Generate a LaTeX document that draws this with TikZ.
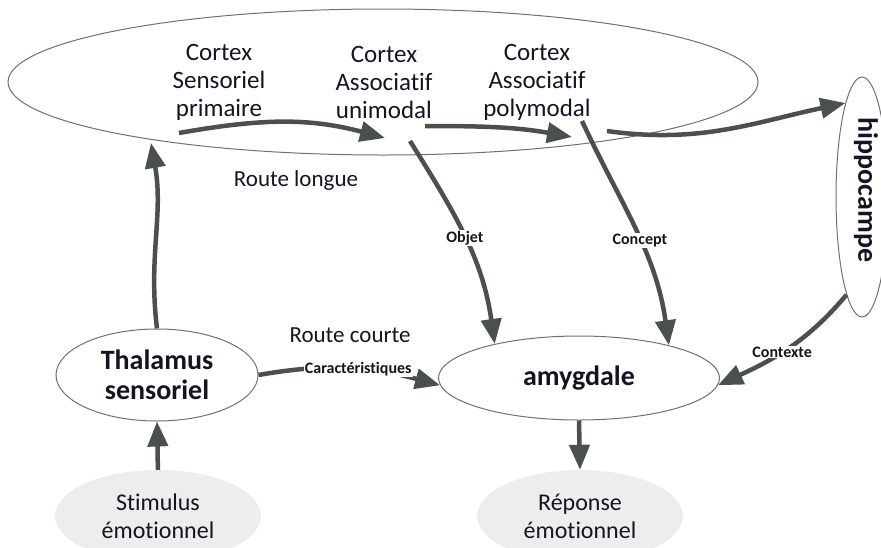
\documentclass[tikz,border=0pt]{standalone}
\usepackage{fontspec}
\setmainfont{Carlito}[Ligatures=NoCommon]
\usepackage{tikz}
\usetikzlibrary{arrows.meta,calc,shapes}

\definecolor{fleche}{RGB}{74,80,75}
\definecolor{bord}{RGB}{112,112,112}
\definecolor{fond}{RGB}{237,237,237}
\definecolor{encre}{RGB}{20,20,35}

\begin{document}
\begin{tikzpicture}[x=1pt, y=-1pt, text=encre,
  zone/.style={ellipse, draw=bord, line width=1pt, inner sep=0pt, align=center},
  gris/.style={ellipse, fill=fond, inner sep=0pt, align=center, font=\fontsize{24}{28}\selectfont},
  txt/.style={align=center, font=\fontsize{25}{28}\selectfont},
  gras/.style={font=\fontsize{28}{30}\selectfont\bfseries},
  lbl/.style={fill=white, inner sep=1pt, text=encre, font=\fontsize{16}{18}\selectfont\bfseries},
  fl/.style={color=fleche, line width=4.5pt, -{Triangle[length=25pt,width=20pt]}}]
  \useasboundingbox (0,0) rectangle (881,547);
  % les zones
  \node[zone, minimum width=750pt, minimum height=146pt] (cortex) at (383,82) {};
  \node[zone, minimum width=52pt, minimum height=240pt] (hippo) at (862,197) {};
  \node[gras, rotate=-90] (hippotxt) at (866,190) {hippocampe};
  \node[zone, gras, minimum width=202pt, minimum height=92pt] (thal) at (157,375) {Thalamus\\sensoriel};
  \node[zone, gras, minimum width=281pt, minimum height=84pt] (amyg) at (579,378) {amygdale};
  \node[gris, minimum width=206pt, minimum height=92pt] (stim) at (158,516) {Stimulus\\émotionnel};
  \node[gris, minimum width=206pt, minimum height=92pt] (rep) at (580,516) {Réponse\\émotionnel};
  % les cortex
  \node[txt] (prim) at (219,82) {Cortex\\Sensoriel\\primaire};
  \node[txt] (uni) at (384,82) {Cortex\\Associatif\\unimodal};
  \node[txt] (poly) at (537,82) {Cortex\\Associatif\\polymodal};
  \node[txt, font=\fontsize{23}{26}\selectfont] (longue) at (296,180) {Route longue};
  \node[txt, font=\fontsize{23}{26}\selectfont] (courte) at (350,335) {Route courte};
  \coordinate (p1) at (179,133);
  \coordinate (p2) at (385,138);
  \coordinate (p3) at (425,126);
  \coordinate (p4) at (572,137);
  \coordinate (p5) at (607,131);
  \coordinate (p6) at (151,143);
  \coordinate (p7) at (410,141);
  \coordinate (p8) at (582,121);
  % route longue
  \path[fl]
  (p1) edge[out=10, in=165] (p2)
  (p3) edge[out=0, in=170] (p4)
  (p5) edge[out=-8, in=192] (hippo.100)
  (thal.north) edge[out=97, in=-80] (p6)
  (p7) edge[out=-58, in=98] node[lbl, pos=0.5] {Objet} (amyg.158)
  (p8) edge[out=-65, in=98] node[lbl, pos=0.55] {Concept} (amyg.20)
  (hippo.261) edge[out=-130, in=25] node[lbl, pos=0.55] {Contexte} (amyg.-3);
  % route courte
  \path[fl]
  (thal.east) edge[out=10, in=165] node[lbl, pos=0.55] {Caractéristiques} (amyg.183)
  (stim.north) edge[out=92, in=-88] (thal.south)
  (amyg.south) edge (rep.north);
\end{tikzpicture}
\end{document}
